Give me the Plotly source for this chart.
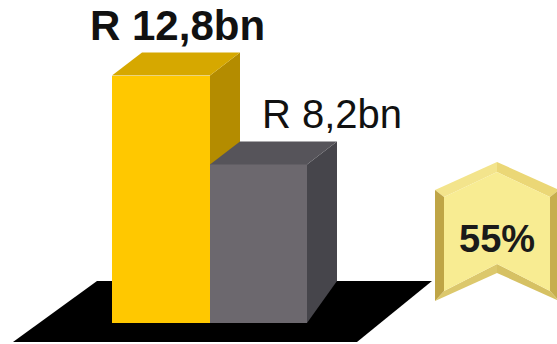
import plotly.graph_objects as go

# ---- data ----
categories = ["A", "B"]
values = [12.8, 8.2]
value_labels = ["R 12,8bn", "R 8,2bn"]
badge_label = "55%"

# ---- layout constants (pixel-based geometry) ----
W, H = 557, 344
S = 19.33            # pixels per value unit
BASE_PX = 323        # pixel row of value 0
def ypx(p):          # pixel row -> data y
    return (BASE_PX - p) / S

bar_left = [112, 210]
bar_right = [210, 307]
DX = 30              # depth offset in x (px)
DY = 23 / S          # depth offset in y (data units)

front_cols = ["#FFC800", "#6C686E"]
top_cols = ["#D6A800", "#56545A"]
side_cols = ["#B48C00", "#46454B"]

fig = go.Figure()
fig.add_trace(go.Bar(
    x=[(l + r) / 2 for l, r in zip(bar_left, bar_right)],
    y=values,
    width=[r - l for l, r in zip(bar_left, bar_right)],
    marker=dict(color=front_cols, line=dict(width=0)),
    hoverinfo="skip",
))

shapes = []
# floor
shapes.append(dict(type="path", layer="below", line=dict(width=0), fillcolor="#000000",
                   path=f"M13,{ypx(342)} L97,{ypx(281)} L432,{ypx(281)} L357,{ypx(342)} Z",
                   xref="x", yref="y"))
for i, v in enumerate(values):
    L, R = bar_left[i], bar_right[i]
    layer = "below" if i == 0 else "above"
    top = f"M{L},{v} L{L+DX},{v+DY} L{R+DX},{v+DY} L{R},{v} Z"
    side_bottom = DY if i == 0 else ypx(281)
    side = f"M{R},{v} L{R+DX},{v+DY} L{R+DX},{side_bottom} L{R},0 Z"
    shapes.append(dict(type="path", layer=layer, line=dict(width=0), fillcolor=side_cols[i],
                       path=side, xref="x", yref="y"))
    shapes.append(dict(type="path", layer=layer, line=dict(width=0), fillcolor=top_cols[i],
                       path=top, xref="x", yref="y"))

# chevron badge (bevelled)
def poly(pts):
    return "M" + " L".join(f"{x},{ypx(y)}" for x, y in pts) + " Z"
outer = [(435, 190), (497, 162), (559, 190), (559, 301), (497, 273), (435, 301)]
inner = [(444, 197), (497, 172), (550, 197), (550, 291), (497, 264), (444, 291)]
bevel_cols = ["#F3E48C", "#EBD776", "#C7AE4E", "#D6C163", "#DCC86C", "#BFA546"]
for k in range(6):
    a, b = outer[k], outer[(k + 1) % 6]
    c, d = inner[(k + 1) % 6], inner[k]
    shapes.append(dict(type="path", layer="above", line=dict(width=0), fillcolor=bevel_cols[k],
                       path=poly([a, b, c, d]), xref="x", yref="y"))
shapes.append(dict(type="path", layer="above", line=dict(width=0), fillcolor="#F8EC92",
                   path=poly(inner), xref="x", yref="y"))

annotations = [
    dict(x=177, y=values[0] + DY, yshift=2, text=f"<b>{value_labels[0]}</b>", showarrow=False,
         xanchor="center", yanchor="bottom", font=dict(size=42, color="#111111")),
    dict(x=332, y=values[1] + DY, yshift=3, text=value_labels[1], showarrow=False,
         xanchor="center", yanchor="bottom", font=dict(size=40, color="#111111")),
    dict(x=497, y=ypx(239), text=f"<b>{badge_label}</b>", showarrow=False,
         xanchor="center", yanchor="middle", font=dict(size=38, color="#1A1A1A")),
]

fig.update_layout(
    width=W, height=H, margin=dict(l=0, r=0, t=0, b=0),
    paper_bgcolor="white", plot_bgcolor="white",
    showlegend=False, bargap=0,
    font=dict(family="Arial, Liberation Sans, sans-serif"),
    xaxis=dict(range=[0, W], visible=False, fixedrange=True),
    yaxis=dict(range=[ypx(H), ypx(0)], visible=False, fixedrange=True),
    shapes=shapes, annotations=annotations,
)
fig.write_html("out.html", config={"displayModeBar": False})
